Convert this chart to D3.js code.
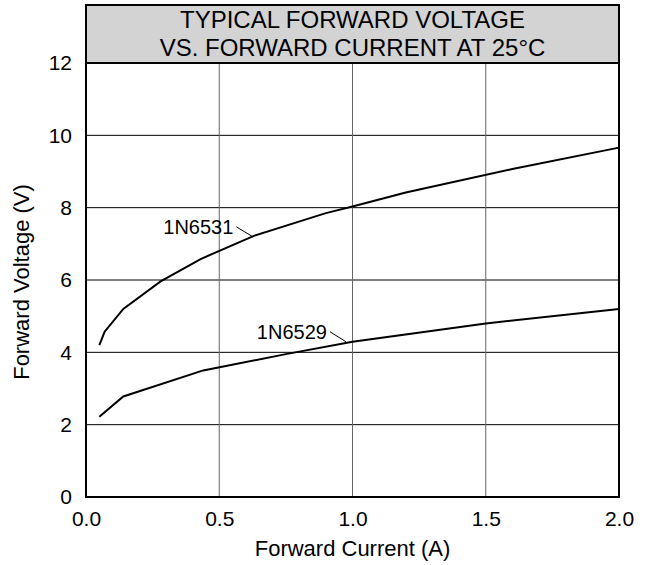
<!DOCTYPE html>
<html>
<head>
<meta charset="utf-8">
<script src="https://cdn.jsdelivr.net/npm/d3@7"></script>
<style>
  body { margin: 0; background: #fff; }
  text { font-family: "Liberation Sans", Arial, sans-serif; fill: #000; }
</style>
</head>
<body>
<svg id="chart" width="651" height="565"></svg>
<script>
// curve data (current A, voltage V)
const current6531 = [0.05, 0.07, 0.14, 0.28, 0.43, 0.63, 0.9, 1.0, 1.2, 1.6, 2.0]
const volts6531 = [4.2, 4.57, 5.2, 5.96, 6.58, 7.22, 7.85, 8.03, 8.42, 9.07, 9.66]
const current6529 = [0.05, 0.14, 0.44, 0.75, 1.0, 1.5, 2.0]
const volts6529 = [2.22, 2.78, 3.5, 3.95, 4.29, 4.8, 5.2]
const xTicks = [0, 0.5, 1.0, 1.5, 2.0]
const yTicks = [0, 2, 4, 6, 8, 10, 12]
const titleLines = ["TYPICAL FORWARD VOLTAGE", "VS. FORWARD CURRENT AT 25°C"]

const svg = d3.select("#chart")
const LEFT = 86, RIGHT = 619, TOP = 63, BOTTOM = 497
const FS = "20px"

let xs = d3.scaleLinear().domain([0, 2]).range([LEFT, RIGHT])
let ys = d3.scaleLinear().domain([0, 12]).range([BOTTOM, TOP])

// title box
svg.append("rect")
    .attr("x", LEFT).attr("y", 5)
    .attr("width", RIGHT - LEFT).attr("height", TOP - 5)
    .style("fill", "#d3d3d3")
    .style("stroke", "#000")
    .style("stroke-width", 2)
titleLines.forEach((t, i) => {
    svg.append("text")
        .text(t)
        .attr("x", (LEFT + RIGHT) / 2)
        .attr("y", 28 + i * 28)
        .style("font-size", "24px")
        .style("text-anchor", "middle")
})

// grid
svg.append("g").selectAll("line")
    .data(yTicks.filter(d => d > 0 && d < 12))
    .enter().append("line")
    .attr("x1", LEFT).attr("x2", RIGHT)
    .attr("y1", d => ys(d)).attr("y2", d => ys(d))
    .style("stroke", "#000").style("stroke-width", 1)
svg.append("g").selectAll("line")
    .data(xTicks.filter(d => d > 0 && d < 2))
    .enter().append("line")
    .attr("x1", d => xs(d)).attr("x2", d => xs(d))
    .attr("y1", TOP).attr("y2", BOTTOM)
    .style("stroke", "#666").style("stroke-width", 1)

// plot frame
svg.append("rect")
    .attr("x", LEFT).attr("y", TOP)
    .attr("width", RIGHT - LEFT).attr("height", BOTTOM - TOP)
    .style("fill", "none")
    .style("stroke", "#000")
    .style("stroke-width", 2)

// axes, labels only
let xAxis = svg.append("g")
    .attr("transform", `translate(0,${BOTTOM})`)
    .call(d3.axisBottom(xs).tickValues(xTicks).tickFormat(d3.format(".1f")).tickSize(0).tickPadding(14))
let yAxis = svg.append("g")
    .attr("transform", `translate(${LEFT},0)`)
    .call(d3.axisLeft(ys).tickValues(yTicks).tickSize(0).tickPadding(14))
;[xAxis, yAxis].forEach(a => {
    a.select(".domain").remove()
    a.selectAll("text").style("font-size", "21px").style("font-family", "Liberation Sans, Arial, sans-serif")
})

svg.append("text")
    .text("Forward Current (A)")
    .attr("x", (LEFT + RIGHT) / 2)
    .attr("y", 556)
    .style("font-size", "22px")
    .style("text-anchor", "middle")
svg.append("text")
    .text("Forward Voltage (V)")
    .attr("transform", `translate(29,${(TOP + BOTTOM) / 2 + 2}) rotate(-90)`)
    .style("font-size", "22px")
    .style("text-anchor", "middle")

// curves
let line = d3.line().x(d => xs(d[0])).y(d => ys(d[1]))
const series = [
    { name: "1N6531", pts: d3.zip(current6531, volts6531), lx: 0.553, ly: 7.47, ax: 0.627, ay: 7.19 },
    { name: "1N6529", pts: d3.zip(current6529, volts6529), lx: 0.904, ly: 4.57, ax: 0.976, ay: 4.29 }
]
series.forEach(s => {
    svg.append("path")
        .datum(s.pts)
        .attr("d", line)
        .style("fill", "none")
        .style("stroke", "#000")
        .style("stroke-width", 2)
    svg.append("text")
        .text(s.name)
        .attr("x", xs(s.lx))
        .attr("y", ys(s.ly) + 7)
        .style("font-size", FS)
        .style("text-anchor", "end")
    svg.append("line")
        .attr("x1", xs(s.lx) + 3).attr("y1", ys(s.ly))
        .attr("x2", xs(s.ax)).attr("y2", ys(s.ay))
        .style("stroke", "#000").style("stroke-width", 1)
})
</script>
</body>
</html>
